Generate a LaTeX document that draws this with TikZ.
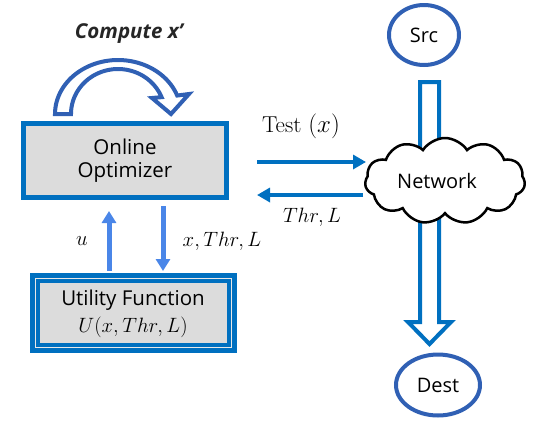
\documentclass[tikz,border=0pt]{standalone}
\usepackage{fontspec}
\setsansfont{Open Sans}
\usetikzlibrary{shapes.symbols,shapes.geometric,arrows.meta}
\definecolor{boxblue}{HTML}{0070C0}
\definecolor{arcblue}{HTML}{3060B4}
\definecolor{lightarrow}{HTML}{4A86E8}
\definecolor{boxgray}{HTML}{DCDCDC}
\definecolor{innerline}{HTML}{E8E8E8}
\tikzset{
  mainbox/.style={draw=boxblue, fill=boxgray, line width=5pt, rectangle, inner sep=0pt},
  endpoint/.style={draw=arcblue, line width=4pt, ellipse, inner sep=0pt, font=\sffamily\fontsize{20}{24}\selectfont},
  flowarrow/.style={draw=boxblue, line width=4.5pt, -{Triangle[length=13pt,width=14pt]}},
  lightflow/.style={draw=lightarrow, line width=5pt, -{Triangle[length=12pt,width=14pt]}},
  mathlabel/.style={font=\fontsize{21}{24}\selectfont},
  sanslabel/.style={font=\sffamily\fontsize{20.5}{24}\selectfont},
  hollow/.style={line width=4pt, fill=white, line join=miter}
}
\begin{document}
\begin{tikzpicture}[x=1pt,y=-1pt]
\useasboundingbox (0,0) rectangle (539,421);
% curved hollow arrow
\draw[hollow, draw=arcblue] (55,114) -- plot[domain=180:340,samples=50] ({118+63*cos(\x)},{114+54*sin(\x)})
  -- (189,94) -- (171,114) -- (152,98)
  -- plot[domain=338:180,samples=50] ({118+47*cos(\x)},{114+45*sin(\x)}) -- cycle;
\node[font=\sffamily\bfseries\itshape\fontsize{20.5}{24}\selectfont, text=black!85] (comp) at (129,34) {Compute x’};
% online optimizer
\node[mainbox, minimum width=203pt, minimum height=74pt, align=center,
  font=\sffamily\fontsize{20.5}{23}\selectfont] (opt) at (125,160.5) {Online\\Optimizer};
% utility function
\node[mainbox, line width=10pt, minimum width=197pt, minimum height=70pt] (util) at (133.5,313) {};
\draw[innerline, line width=1.2pt] ([shift={(5.6,5.6)}]util.north west) rectangle ([shift={(-5.6,-5.6)}]util.south east);
\node[sanslabel] (utxt) at (133,300) {Utility Function};
\node[mathlabel] (uform) at (133,327) {$U(x,Thr,L)$};
% vertical arrows
\coordinate (dtop) at (163,206);
\coordinate (dbot) at (163,271);
\coordinate (ubot) at (109,271);
\coordinate (utop) at (109,211);
\draw[lightflow] (dtop) -- (dbot);
\draw[lightflow] (ubot) -- (utop);
\node[mathlabel] (ulab) at (82,241) {$u$};
\node[mathlabel] (xlab) at (222,241) {$x,Thr,L$};
% hollow vertical arrow (src -> dest)
\draw[hollow, draw=boxblue] (420,82) -- (439,82) -- (439,322) -- (451,322) -- (429.5,344) -- (408,322) -- (420,322) -- cycle;
% network cloud
\node[cloud, draw=black, fill=white, line width=2.5pt, cloud puffs=11, cloud puff arc=115, aspect=1.8,
  minimum width=160pt, minimum height=86pt, inner sep=0pt] (net) at (445,181) {};
\node[font=\sffamily\fontsize{20}{24}\selectfont] (nettxt) at (437,181) {Network};
% src/dest
\node[endpoint, minimum width=70pt, minimum height=60pt] (src) at (424,35) {Src};
\node[endpoint, minimum width=84pt, minimum height=61pt] (dest) at (438,385) {Dest};
% test arrows
\coordinate (tl) at (257,162);
\coordinate (tr) at (366,162);
\coordinate (bl) at (257,195);
\coordinate (br) at (363,195);
\draw[flowarrow] (tl) -- (tr);
\draw[flowarrow] (br) -- (bl);
\node[font=\fontsize{23}{26}\selectfont] (testlab) at (301,126) {Test $(x)$};
\node[mathlabel] (thrlab) at (312,217) {$Thr,L$};
\end{tikzpicture}
\end{document}
